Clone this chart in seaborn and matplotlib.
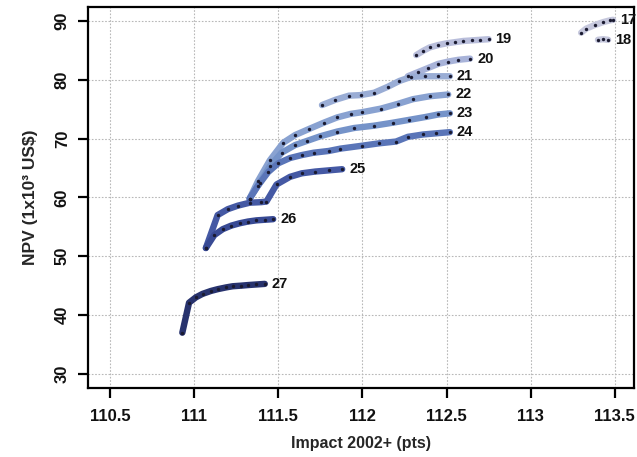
import matplotlib
matplotlib.use("Agg")
import matplotlib.pyplot as plt
import seaborn as sns
import pandas as pd

# ---- data ----
fronts = ["17", "18", "19", "20", "21", "22", "23", "24", "25", "26", "27"]

x_17 = [113.30, 113.33, 113.38, 113.43, 113.47, 113.49]
y_17 = [88.0, 88.7, 89.3, 89.8, 90.1, 90.2]
x_18 = [113.40, 113.43, 113.46]
y_18 = [86.8, 86.9, 86.8]
x_19 = [112.32, 112.36, 112.40, 112.45, 112.50, 112.55, 112.60, 112.65, 112.70, 112.75]
y_19 = [84.2, 84.9, 85.5, 85.9, 86.2, 86.4, 86.6, 86.7, 86.8, 86.9]
x_20 = [112.27, 112.33, 112.39, 112.45, 112.51, 112.57, 112.64]
y_20 = [80.6, 81.3, 82.0, 82.7, 83.1, 83.4, 83.6]
x_21 = [111.76, 111.84, 111.92, 111.99, 112.07, 112.15, 112.22, 112.29, 112.37, 112.45, 112.52]
y_21 = [75.7, 76.6, 77.3, 77.4, 77.8, 78.8, 79.8, 80.5, 80.6, 80.6, 80.6]
x_22 = [111.33, 111.38, 111.45, 111.53, 111.60, 111.68, 111.77, 111.85, 111.93, 112.00,
        112.11, 112.21, 112.30, 112.40, 112.51]
y_22 = [59.8, 62.8, 66.3, 69.3, 70.6, 71.6, 72.7, 73.6, 74.2, 74.5,
        75.1, 75.9, 76.7, 77.2, 77.5]
x_23 = [111.33, 111.39, 111.45, 111.52, 111.60, 111.67, 111.75, 111.85, 111.95, 112.07,
        112.18, 112.28, 112.38, 112.45, 112.52]
y_23 = [59.8, 62.5, 65.3, 67.6, 68.9, 69.6, 70.4, 71.2, 71.8, 72.2,
        72.7, 73.2, 73.7, 74.1, 74.3]
x_24 = [111.33, 111.38, 111.44, 111.50, 111.57, 111.64, 111.71, 111.80, 111.87, 112.00,
        112.10, 112.20, 112.27, 112.36, 112.44, 112.52]
y_24 = [59.8, 62.0, 64.3, 65.8, 66.7, 67.2, 67.6, 67.9, 68.3, 68.8,
        69.2, 69.5, 70.3, 70.7, 70.9, 71.1]
x_25 = [111.07, 111.14, 111.20, 111.26, 111.33, 111.40, 111.43, 111.49, 111.57, 111.64,
        111.72, 111.80, 111.88]
y_25 = [51.4, 57.0, 58.0, 58.6, 59.1, 59.2, 59.3, 62.2, 63.5, 64.1,
        64.4, 64.6, 64.8]
x_26 = [111.07, 111.12, 111.17, 111.22, 111.27, 111.32, 111.37, 111.42, 111.47]
y_26 = [51.4, 53.6, 54.6, 55.2, 55.6, 55.9, 56.1, 56.2, 56.3]
x_27 = [110.93, 110.97, 111.01, 111.05, 111.10, 111.14, 111.19, 111.23, 111.28, 111.32,
        111.37, 111.42]
y_27 = [37.0, 42.1, 43.0, 43.6, 44.1, 44.4, 44.7, 44.9, 45.0, 45.1, 45.2, 45.3]

xs = [x_17, x_18, x_19, x_20, x_21, x_22, x_23, x_24, x_25, x_26, x_27]
ys = [y_17, y_18, y_19, y_20, y_21, y_22, y_23, y_24, y_25, y_26, y_27]

x_ticks = [110.5, 111, 111.5, 112, 112.5, 113, 113.5]
x_tick_labels = ["110.5", "111", "111.5", "112", "112.5", "113", "113.5"]
y_ticks = [30, 40, 50, 60, 70, 80, 90]

colors = ["#c6c8dd", "#c6c8dd", "#b9bedb", "#a8b3d9", "#9aadd5", "#89a2d1",
          "#7593c9", "#5a75b8", "#4559a4", "#384a94", "#28336e"]

sns.set_theme(style="white")
plt.rcParams["font.family"] = ["Liberation Sans", "DejaVu Sans"]
plt.rcParams["font.weight"] = "bold"

fig = plt.figure(figsize=(6.37, 4.57), dpi=100)
ax = fig.add_axes([0.138, 0.151, 0.857, 0.834])

for name, xv, yv, col in zip(fronts, xs, ys, colors):
    d = pd.DataFrame({"impact": xv, "npv": yv})
    sns.lineplot(data=d, x="impact", y="npv", sort=False, estimator=None,
                 color=col, linewidth=4.6, ax=ax, zorder=3,
                 solid_capstyle="round", solid_joinstyle="round")
    sns.scatterplot(data=d, x="impact", y="npv", color="#1a1a30", s=6,
                    linewidth=0, legend=False, ax=ax, zorder=4)
    ax.annotate(name, (xv[-1], yv[-1]), xytext=(5, 0), textcoords="offset points",
                va="center", ha="left", fontsize=10.5, fontweight="bold", color="#111111")

ax.set_xlim(110.369, 113.613)
ax.set_ylim(27.6, 92.4)
ax.set_xticks(x_ticks)
ax.set_xticklabels(x_tick_labels)
ax.set_yticks(y_ticks)
ax.set_yticklabels([str(v) for v in y_ticks], rotation=90, va="center")

ax.grid(True, color="#b8b8b8", linestyle=(0, (1.5, 1.5)), linewidth=0.8)
for s in ax.spines.values():
    s.set_visible(True)
    s.set_color("black")
    s.set_linewidth(1.6)
ax.tick_params(axis="both", which="major", direction="out", length=7, width=1.6,
               color="black", labelsize=12, labelcolor="#111111")
ax.tick_params(axis="x", pad=8)
ax.tick_params(axis="y", pad=6)
ax.tick_params(top=False, right=False, bottom=True, left=True)

ax.set_xlabel("Impact 2002+ (pts)", fontsize=11.5, fontweight="bold", labelpad=9)
ax.set_ylabel("NPV (1x10³ US\\$)", fontsize=12.5, fontweight="bold", labelpad=12)

fig.savefig("out.png", dpi=100)
